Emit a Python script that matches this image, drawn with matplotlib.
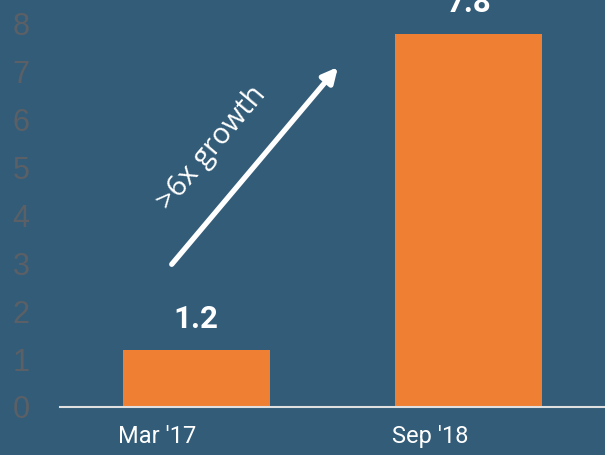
import matplotlib.pyplot as plt

# data
periods = ["Mar '17", "Sep '18"]
values = [1.2, 7.8]
value_labels = ["1.2", "7.8"]
y_ticks = [0, 1, 2, 3, 4, 5, 6, 7, 8]

bg = '#335c78'
orange = '#ee7f33'

fig = plt.figure(figsize=(6.05, 4.55), dpi=100, facecolor=bg)
ax = fig.add_axes([60/605, (455-407)/455, 545/605, 407/455])
ax.set_facecolor(bg)

x = range(len(periods))
ax.bar(x, values, width=0.54, color=orange, zorder=2)

for xi, v, lab in zip(x, values, value_labels):
    ax.text(xi, v + 0.33, lab, ha='center', va='bottom', color='white',
            fontsize=22.5, fontweight='bold', family='Roboto', clip_on=False)

ax.set_xlim(-0.5, 1.5)
ax.set_ylim(0, 8.5)
ax.set_xticks(list(x))
ax.set_xticklabels(periods, fontsize=17, color='white', family='Roboto', ha='right')
ax.set_yticks(y_ticks)
ax.set_yticklabels([str(t) for t in y_ticks], fontsize=22, color='#5b6066',
                   family='Liberation Sans')
ax.tick_params(axis='x', length=0, pad=13)
ax.tick_params(axis='y', length=0, pad=22)

for s in ['top', 'right', 'left']:
    ax.spines[s].set_visible(False)
ax.spines['bottom'].set_color('#e0e0e0')
ax.spines['bottom'].set_linewidth(1.5)

# growth arrow
ax.annotate('', xy=(0.52, 7.1), xytext=(-0.09, 2.98),
            arrowprops=dict(arrowstyle='-|>,head_length=0.9,head_width=0.45',
                            color='white', lw=3.8, shrinkA=0, shrinkB=0))
ax.text(0.056, 5.41, '>6x growth', rotation=50, rotation_mode='anchor',
        ha='center', va='center', color='white', fontsize=21, family='Open Sans')

fig.savefig('out.png', dpi=100, facecolor=bg)
